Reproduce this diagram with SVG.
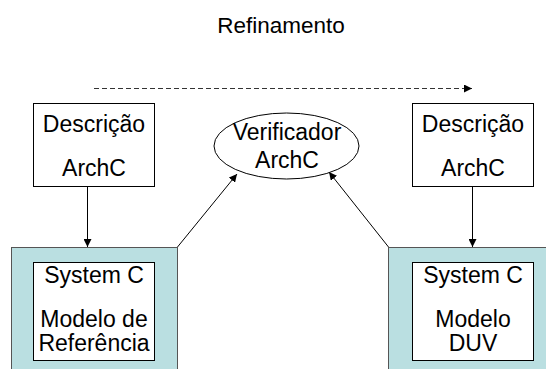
<svg xmlns="http://www.w3.org/2000/svg" width="546" height="369" viewBox="0 0 546 369">
<style>
text{font-family:"Liberation Sans",Arial,sans-serif;font-size:23px;fill:#000;text-anchor:middle}
.box{fill:#fff;stroke:#000;stroke-width:1}
.outer{fill:#badfe1;stroke:#555;stroke-width:1}
.conn{stroke:#000;stroke-width:1;fill:none}
</style>
<defs>
<marker id="ah" viewBox="0 0 10 10" refX="10" refY="5" markerWidth="8" markerHeight="8" markerUnits="userSpaceOnUse" orient="auto">
<path d="M0,0 L10,5 L0,10 z" fill="#000"/>
</marker>
</defs>
<rect width="546" height="369" fill="#fff"/>
<text id="title" x="281" y="33" style="font-size:22.5px">Refinamento</text>
<g id="desc-left">
<rect class="box" x="33.5" y="103.5" width="121" height="83"/>
<text x="94" y="132">Descrição</text>
<text x="94" y="176">ArchC</text>
</g>
<g id="desc-right">
<rect class="box" x="412.5" y="103.5" width="121" height="83"/>
<text x="473" y="132">Descrição</text>
<text x="473" y="176">ArchC</text>
</g>
<g id="verificador">
<ellipse cx="286.5" cy="146" rx="72.5" ry="33" fill="#fff" stroke="#000"/>
<text x="287" y="140">Verificador</text>
<text x="287" y="168">ArchC</text>
</g>
<g id="systemc-left">
<rect class="outer" x="11.5" y="247.5" width="166" height="130"/>
<rect class="box" x="33.5" y="262.5" width="121" height="98"/>
<text x="94" y="283">System C</text>
<text x="94" y="327">Modelo de</text>
<text x="94" y="351">Referência</text>
</g>
<g id="systemc-right">
<rect class="outer" x="388.5" y="247.5" width="170" height="130"/>
<rect class="box" x="412.5" y="262.5" width="121" height="98"/>
<text x="473" y="283">System C</text>
<text x="473" y="327">Modelo</text>
<text x="473" y="351">DUV</text>
</g>
<g id="connectors">
<line x1="94" y1="88.5" x2="472" y2="88.5" stroke="#333" stroke-width="1" stroke-dasharray="5,3" marker-end="url(#ah)"/>
<line class="conn" x1="87.5" y1="186.5" x2="87.5" y2="247" marker-end="url(#ah)"/>
<line class="conn" x1="472.5" y1="186.5" x2="472.5" y2="247" marker-end="url(#ah)"/>
<line class="conn" x1="177.5" y1="247" x2="237" y2="174" marker-end="url(#ah)"/>
<line class="conn" x1="388.5" y1="247" x2="329" y2="172" marker-end="url(#ah)"/>
</g>
</svg>
